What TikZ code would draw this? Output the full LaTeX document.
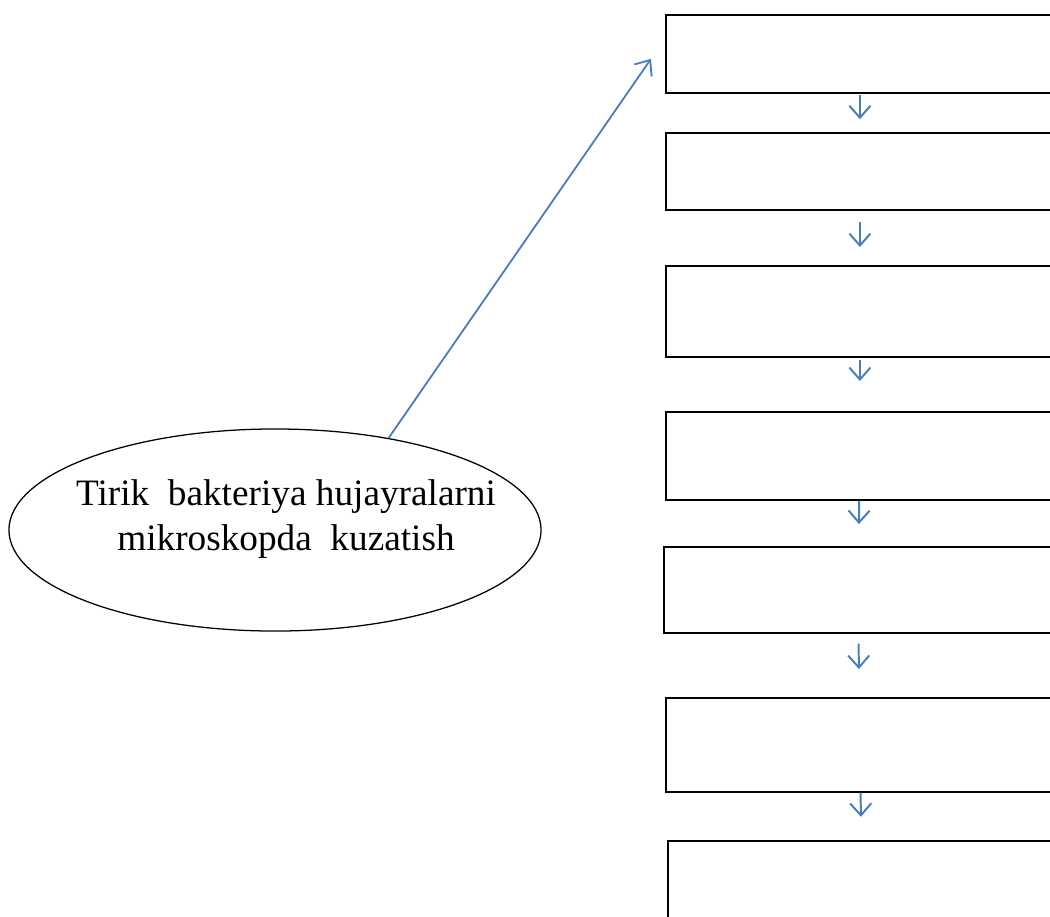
\documentclass[tikz,border=0pt]{standalone}
\usepackage{fontspec}
\setmainfont{Liberation Serif}
\usepackage{xcolor}
\usetikzlibrary{shapes,arrows.meta,positioning,calc}
\definecolor{arrblue}{HTML}{4A7EBB}

\begin{document}
\begin{tikzpicture}[x=0.025cm, y=-0.025cm,
    stepbox/.style={draw, line width=1.2pt, minimum width=9.7cm, inner sep=0pt, anchor=north west},
    downarr/.style={draw=arrblue, line width=1.4pt, -{Straight Barb[length=8.5pt, width=15pt, line width=1.4pt]}},
    bigarr/.style={draw=arrblue, line width=1.3pt, -{Straight Barb[length=9pt, width=15pt, line width=1.3pt]}}]
  \clip (0,0) rectangle (1050,916);

  % Steps
  \node[stepbox, minimum height=1.95cm]  (b1) at (665,14) {};
  \node[stepbox, minimum height=1.925cm] (b2) at (665,132) {};
  \node[stepbox, minimum height=2.275cm] (b3) at (665,265) {};
  \node[stepbox, minimum height=2.2cm]   (b4) at (665,411) {};
  \node[stepbox, minimum height=2.15cm]  (b5) at (663,546) {};
  \node[stepbox, minimum height=2.35cm]  (b6) at (665,697) {};
  \node[stepbox, minimum height=2.25cm]  (b7) at (667,840) {};

  % Arrows between steps
  \foreach \p/\q/\s/\e in {b1/b2/0.03/0.32, b2/b3/0.28/0.45, b3/b4/0.05/0.75,
                            b4/b5/0.0/0.55, b5/b6/0.25/0.7, b6/b7/0.0/0.58} {
    \draw[downarr, shorten <=\s cm, shorten >=\e cm] (\p) -- (\q);
  }

  % Observation
  \node[draw, ellipse, line width=0.9pt, minimum width=13.3cm, minimum height=5.05cm] (ell) at (275,530) {};
  \node[font=\fontsize{26.5}{32}\selectfont, align=center] (obs) at (286,519)
    {Tirik\ \ bakteriya hujayralarni\\mikroskopda\ \ kuzatish};
  \draw[bigarr] (ell.39) -- ([shift={(-14,5)}]b1.west);
\end{tikzpicture}
\end{document}
